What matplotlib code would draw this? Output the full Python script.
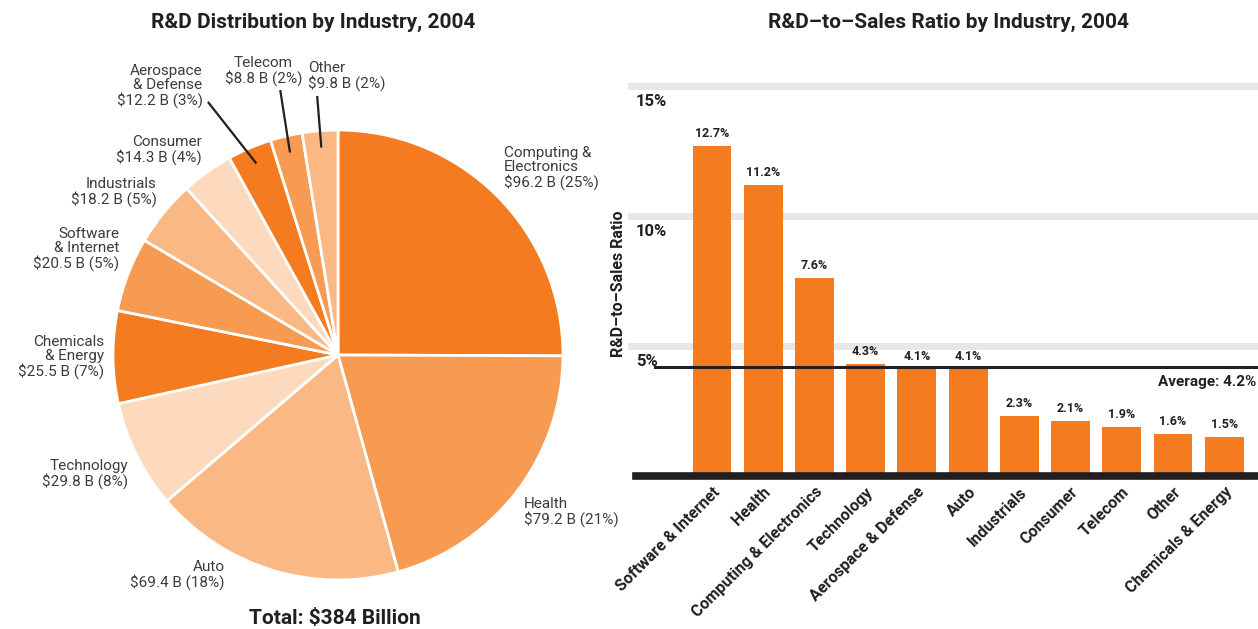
import matplotlib.pyplot as plt
import numpy as np
# Two-panel R&D chart: pie of spending by industry, bars of R&D-to-sales ratio

plt.rcParams['font.family'] = ['Roboto', 'DejaVu Sans']

# pie data (clockwise from 12 o'clock)
pie_names = ["Computing &\nElectronics", "Health", "Auto", "Technology", "Chemicals\n& Energy",
             "Software\n& Internet", "Industrials", "Consumer", "Aerospace\n& Defense", "Telecom", "Other"]
pie_values = [96.2, 79.2, 69.4, 29.8, 25.5, 20.5, 18.2, 14.3, 12.2, 8.8, 9.8]
pie_pcts = [25, 21, 18, 8, 7, 5, 5, 4, 3, 2, 2]
pie_total = "$384 Billion"

# bar data
bar_names = ["Software & Internet", "Health", "Computing & Electronics", "Technology",
             "Aerospace & Defense", "Auto", "Industrials", "Consumer", "Telecom", "Other",
             "Chemicals & Energy"]
bar_ratios = [12.7, 11.2, 7.6, 4.3, 4.1, 4.1, 2.3, 2.1, 1.9, 1.6, 1.5]
avg_ratio = 4.2
grid_levels = [5, 10, 15]

DARK = "#231F20"
LABEL = "#3C3C3C"
shades = ["#F47B20", "#F79A52", "#FAB885", "#FDDABD"]


def main():
    fig = plt.figure(figsize=(12.58, 6.29), dpi=100)

    # ---- pie ----
    ax1 = fig.add_axes([64 / 1258, 0, 548 / 1258, 548 / 629])
    colors = [shades[i % 4] for i in range(len(pie_values))]
    wedges, _ = ax1.pie(pie_values, startangle=90, counterclock=False, colors=colors, radius=1,
                        wedgeprops=dict(edgecolor="white", linewidth=2))
    lim = 274 / 225
    ax1.set_xlim(-lim, lim)
    ax1.set_ylim(-lim, lim)
    ax1.set_aspect("equal")

    # small slices get leader lines: angle shift, end radius, text anchor, pixel offset
    leaders = {"Aerospace\n& Defense": (4, 1.26, "right", (-6, -5)),
               "Telecom": (-1, 1.20, "center", (-17, 5)),
               "Other": (0, 1.15, "left", (-9, 6))}
    nudges = {"Auto": -12}

    for w, name, val, pct in zip(wedges, pie_names, pie_values, pie_pcts):
        txt = f"{name}\n${val} B ({pct}%)"
        mid = (w.theta1 + w.theta2) / 2
        if name in leaders:
            shift, r_end, ha, off = leaders[name]
            a0 = np.radians(mid)
            a1 = np.radians(mid + shift)
            p0 = (0.93 * np.cos(a0), 0.93 * np.sin(a0))
            p1 = (r_end * np.cos(a1), r_end * np.sin(a1))
            ax1.plot([p0[0], p1[0]], [p0[1], p1[1]], color=DARK, lw=1.6, clip_on=False)
            ax1.annotate(txt, xy=p1, xytext=off, textcoords="offset pixels", ha=ha, va="bottom",
                         fontsize=11, color=LABEL, linespacing=1.0, multialignment=ha)
            continue
        ang = np.radians(mid + nudges.get(name, 0))
        c, s = np.cos(ang), np.sin(ang)
        ha = "left" if c > 0 else "right"
        va = "bottom" if s > 0.35 else ("top" if s < -0.35 else "center")
        ax1.text(1.04 * c, 1.04 * s, txt, ha=ha, va=va, multialignment=ha,
                 fontsize=11, color=LABEL, linespacing=1.0)

    fig.text(313 / 1258, 1 - 22 / 629, "R&D Distribution by Industry, 2004", ha="center", va="center",
             fontsize=15, fontweight="bold", color=DARK)
    fig.text(335 / 1258, 11 / 629, f"Total: {pie_total}", ha="center", va="center",
             fontsize=15, fontweight="bold", color=DARK)

    # ---- bars ----
    ax2 = fig.add_axes([628 / 1258, 153 / 629, 630 / 1258, 406 / 629])
    x = np.arange(len(bar_ratios))
    for lvl in grid_levels:
        ax2.axhline(lvl, color="#E6E7E8", lw=5, zorder=0)
        ax2.annotate(f"{lvl}%", xy=(0, lvl), xycoords=("axes fraction", "data"), xytext=(8, -8),
                     textcoords="offset pixels", ha="left", va="top", fontsize=12,
                     fontweight="bold", color=DARK)
    ax2.bar(x, bar_ratios, width=0.76, color=shades[0], zorder=2)
    for xi, v in zip(x, bar_ratios):
        ax2.annotate(f"{v}%", xy=(xi, v), xytext=(0, 6), textcoords="offset pixels",
                     ha="center", va="bottom", fontsize=9, fontweight="bold", color=DARK)
    ax2.axhline(avg_ratio, xmin=27 / 630, xmax=1, color=DARK, lw=2.2, zorder=3)
    ax2.annotate(f"Average: {avg_ratio}%", xy=(1, avg_ratio), xycoords=("axes fraction", "data"),
                 xytext=(-2, -8), textcoords="offset pixels", ha="right", va="top",
                 fontsize=11, fontweight="bold", color=DARK)
    ax2.axhline(0, xmin=8 / 630, xmax=1, color=DARK, lw=5.5, zorder=4, clip_on=False)

    ax2.set_xlim(-1.64, 10.66)
    ax2.set_ylim(0, 406 / 26)
    for sp in ax2.spines.values():
        sp.set_visible(False)
    ax2.set_yticks([])
    ax2.set_xticks(x)
    ax2.set_xticklabels(bar_names, rotation=45, ha="right", rotation_mode="anchor",
                        fontsize=11.5, fontweight="bold", color=DARK)
    ax2.tick_params(axis="x", length=0, pad=6)
    ax2.set_ylabel("R&D–to–Sales Ratio", fontsize=11.5, fontweight="bold", color=DARK)
    ax2.yaxis.set_label_coords(-2 / 630, (476 - 283.5) / 406)

    fig.text(948 / 1258, 1 - 22 / 629, "R&D–to–Sales Ratio by Industry, 2004", ha="center", va="center",
             fontsize=15, fontweight="bold", color=DARK)

    fig.savefig("out.png", dpi=100)


if __name__ == "__main__":
    main()
